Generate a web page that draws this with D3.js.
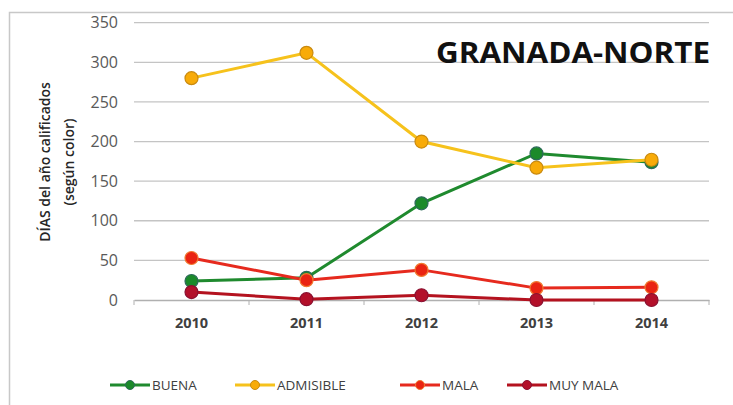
<!DOCTYPE html>
<html>
<head>
<meta charset="utf-8">
<script src="https://cdn.jsdelivr.net/npm/d3@7"></script>
<style>
  body { margin: 0; background: #fff; }
  svg { display: block; font-family: "Open Sans", "DejaVu Sans", sans-serif; }
</style>
</head>
<body>
<svg width="733" height="405"></svg>
<script>
const years = ['2010', '2011', '2012', '2013', '2014'];
const buena = [24, 28, 122, 185, 174];
const admisible = [280, 312, 200, 167, 177];
const mala = [53, 25, 38, 15, 16];
const muyMala = [10, 1, 6, 0, 0];
const yTicks = [0, 50, 100, 150, 200, 250, 300, 350];

const series = [
  { name: 'BUENA', values: buena, line: '#1f8a2e', fill: '#1b8a2a', stroke: '#2d6a5a' },
  { name: 'ADMISIBLE', values: admisible, line: '#f6c21c', fill: '#f8ab08', stroke: '#c98a10' },
  { name: 'MALA', values: mala, line: '#e62a1e', fill: '#ea2412', stroke: '#f07a30' },
  { name: 'MUY MALA', values: muyMala, line: '#b4121f', fill: '#b3102a', stroke: '#8a1030' }
];

const svg = d3.select('svg');
const plotLeft = 134, plotRight = 709, plotTop = 22.7, plotBottom = 300;

// outer frame (left and top edges only visible)
svg.append('path')
  .attr('d', 'M9.5,405 V12.5 H733')
  .attr('fill', 'none')
  .attr('stroke', '#c8c8c8')
  .attr('stroke-width', 1.5);

const x = d3.scaleBand().domain(years).range([plotLeft, plotRight]);
const y = d3.scaleLinear().domain([0, 350]).range([plotBottom, plotTop]);

// gridlines
svg.append('g').selectAll('line')
  .data(yTicks.slice(1))
  .enter().append('line')
  .attr('x1', plotLeft).attr('x2', plotRight)
  .attr('y1', d => y(d)).attr('y2', d => y(d))
  .attr('stroke', '#c4c4c4').attr('stroke-width', 1.3);

// y axis labels
svg.append('g').selectAll('text')
  .data(yTicks)
  .enter().append('text')
  .attr('x', 118).attr('y', d => y(d))
  .attr('dy', '0.35em')
  .attr('text-anchor', 'end')
  .attr('font-size', 16)
  .attr('fill', '#595959')
  .text(d => d);

// x axis
const xAxis = svg.append('g')
  .attr('transform', `translate(0,${plotBottom})`)
  .call(d3.axisBottom(x).tickSize(0).tickPadding(18));
xAxis.select('.domain').attr('stroke', '#b0b0b0').attr('stroke-width', 1.3);
xAxis.selectAll('text')
  .attr('font-family', '"Open Sans", sans-serif')
  .attr('font-size', 14.5).attr('font-weight', 'bold').attr('fill', '#404040');
// tick marks between categories
svg.append('g').selectAll('line')
  .data(years)
  .enter().append('line')
  .attr('x1', d => x(d)).attr('x2', d => x(d))
  .attr('y1', plotBottom).attr('y2', plotBottom + 5)
  .attr('stroke', '#b0b0b0');
svg.append('line')
  .attr('x1', plotRight).attr('x2', plotRight).attr('y1', plotBottom).attr('y2', plotBottom + 5)
  .attr('stroke', '#b0b0b0');

// y title
const yt = svg.append('text')
  .attr('transform', 'translate(50,162) rotate(-90)')
  .attr('text-anchor', 'middle')
  .attr('font-size', 14).attr('font-weight', 600).attr('fill', '#262626');
yt.append('tspan').attr('x', 0).attr('y', 0).text('DÍAS del año calificados');
yt.append('tspan').attr('x', 0).attr('y', 24).text('(según color)');

// title
svg.append('text')
  .attr('x', 710).attr('y', 63)
  .attr('text-anchor', 'end')
  .attr('font-size', 28).attr('font-weight', 'bold').attr('fill', '#111')
  .attr('textLength', 274).attr('lengthAdjust', 'spacingAndGlyphs')
  .text('GRANADA-NORTE');

const cx = d => x(d) + x.bandwidth() / 2;
const line = d3.line().x((v, i) => cx(years[i])).y(v => y(v));

series.forEach(s => {
  svg.append('path')
    .datum(s.values)
    .attr('d', line)
    .attr('fill', 'none')
    .attr('stroke', s.line)
    .attr('stroke-width', 3);
  svg.append('g').selectAll('circle')
    .data(s.values)
    .enter().append('circle')
    .attr('cx', (v, i) => cx(years[i]))
    .attr('cy', v => y(v))
    .attr('r', 6.5)
    .attr('fill', s.fill)
    .attr('stroke', s.stroke)
    .attr('stroke-width', 1.2);
});

// legend
const legendX = [110, 235, 400, 507];
const lg = svg.append('g');
series.forEach((s, i) => {
  const g = lg.append('g').attr('transform', `translate(${legendX[i]},385)`);
  g.append('line').attr('x1', 0).attr('x2', 40).attr('stroke', s.line).attr('stroke-width', 3);
  g.append('circle').attr('cx', 20).attr('r', 4.5).attr('fill', s.fill).attr('stroke', s.stroke).attr('stroke-width', 1);
  g.append('text').attr('x', 42).attr('dy', '0.35em')
    .attr('font-size', 13.5).attr('fill', '#404040')
    .text(s.name);
});
</script>
</body>
</html>
